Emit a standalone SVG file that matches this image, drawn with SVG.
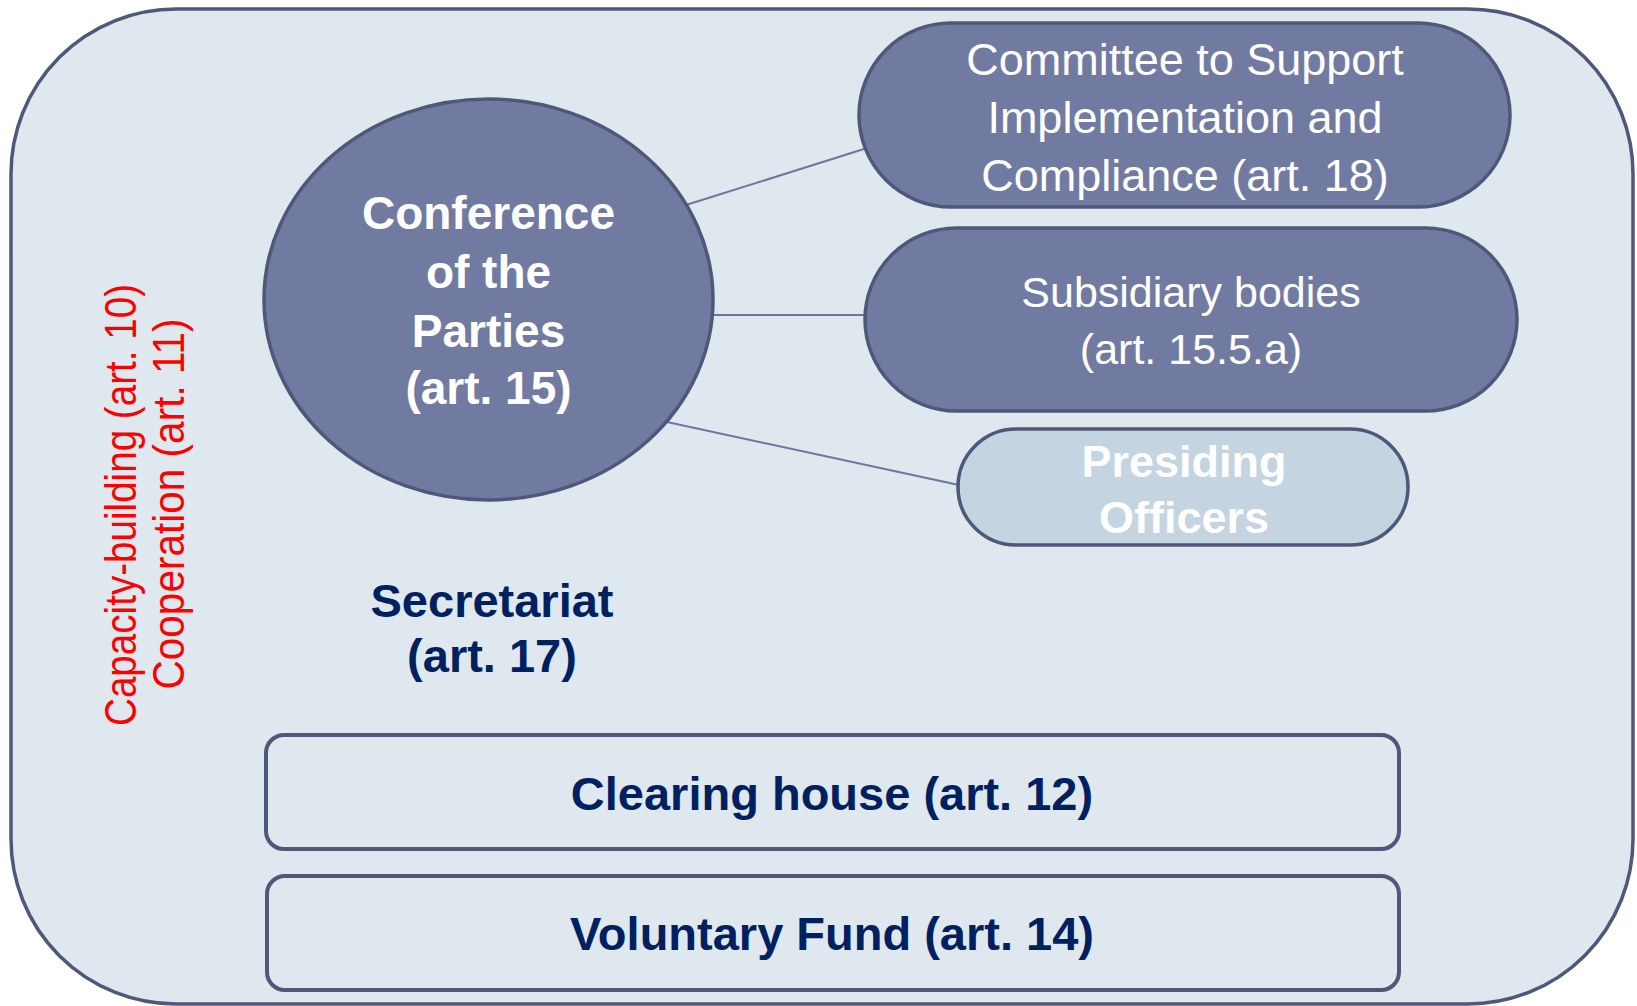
<svg xmlns="http://www.w3.org/2000/svg" width="1637" height="1006" viewBox="0 0 1637 1006">
  <style>
    .frame { fill: #DEE8EE; stroke: #4F5878; stroke-width: 3.5; }
    .dark { fill: #717BA1; stroke: #4F5878; stroke-width: 3.5; }
    .light { fill: #C4D4E1; stroke: #4F5878; stroke-width: 3.5; }
    .box { fill: #DEE8EE; stroke: #4F5878; stroke-width: 4; }
    .conn { stroke: #6B77A0; stroke-width: 2; fill: none; }
    text { font-family: "Liberation Sans", Arial, sans-serif; text-anchor: middle; }
    .wb { fill: #FFFFFF; font-weight: bold; }
    .wr { fill: #FFFFFF; }
    .nb { fill: #002060; font-weight: bold; }
    .red { fill: #FF0000; font-size: 45px; }
  </style>
  <rect id="frame" class="frame" x="11" y="9" width="1622" height="995" rx="165" ry="165"/>
  <g id="connectors">
    <line class="conn" x1="686" y1="205" x2="864" y2="149"/>
    <line class="conn" x1="713" y1="315" x2="866" y2="315"/>
    <line class="conn" x1="667" y1="422" x2="959" y2="485"/>
  </g>
  <g id="cop">
    <ellipse class="dark" cx="488.5" cy="299.5" rx="224.5" ry="200.5"/>
    <text class="wb" font-size="46" x="488.5" y="229">Conference</text>
    <text class="wb" font-size="46" x="488.5" y="288">of the</text>
    <text class="wb" font-size="46" x="488.5" y="347">Parties</text>
    <text class="wb" font-size="46" x="488.5" y="404">(art. 15)</text>
  </g>
  <g id="committee">
    <rect class="dark" x="859" y="23" width="651" height="184" rx="92" ry="92"/>
    <text class="wr" font-size="45" x="1185" y="75">Committee to Support</text>
    <text class="wr" font-size="45" x="1185" y="133">Implementation and</text>
    <text class="wr" font-size="45" x="1185" y="191">Compliance (art. 18)</text>
  </g>
  <g id="subsidiary">
    <rect class="dark" x="865" y="228" width="652" height="183" rx="91.5" ry="91.5"/>
    <text class="wr" font-size="43" x="1191" y="307">Subsidiary bodies</text>
    <text class="wr" font-size="43" x="1191" y="364">(art. 15.5.a)</text>
  </g>
  <g id="presiding">
    <rect class="light" x="958" y="429" width="450" height="116" rx="58" ry="58"/>
    <text class="wb" font-size="45" x="1184" y="477">Presiding</text>
    <text class="wb" font-size="45" x="1184" y="533">Officers</text>
  </g>
  <g id="secretariat">
    <text class="nb" font-size="47" x="492" y="617">Secretariat</text>
    <text class="nb" font-size="47" x="492" y="672">(art. 17)</text>
  </g>
  <g id="clearing-house">
    <rect class="box" x="266" y="735" width="1133" height="114" rx="18" ry="18"/>
    <text class="nb" font-size="47" x="832" y="810">Clearing house (art. 12)</text>
  </g>
  <g id="voluntary-fund">
    <rect class="box" x="267" y="876" width="1132" height="114" rx="18" ry="18"/>
    <text class="nb" font-size="47" x="832" y="950">Voluntary Fund (art. 14)</text>
  </g>
  <g id="side-labels">
    <text class="red" transform="translate(136,505) rotate(-90)" textLength="442" lengthAdjust="spacingAndGlyphs">Capacity-building (art. 10)</text>
    <text class="red" transform="translate(184,504) rotate(-90)" textLength="371" lengthAdjust="spacingAndGlyphs">Cooperation (art. 11)</text>
  </g>
</svg>
